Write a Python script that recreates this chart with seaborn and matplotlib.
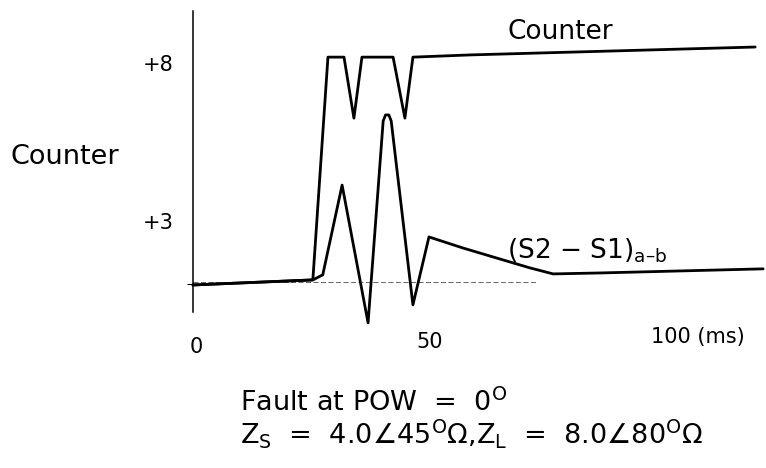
import matplotlib
matplotlib.use("Agg")
import matplotlib.pyplot as plt
import seaborn as sns
import pandas as pd

# ---- data (time in ms, value in counter units) ----
counter_t = [0.0, 25.4, 28.6, 32.0, 34.1, 35.8, 42.4, 44.9, 46.6, 58.7, 119.1]
counter_v = [0.96, 1.12, 8.17, 8.17, 6.24, 8.17, 8.17, 6.24, 8.17, 8.24, 8.49]

diff_t = [0.0, 25.4, 27.5, 31.6, 37.1, 40.3, 40.8, 41.5, 42.0, 46.6, 50.0,
          57.2, 64.4, 71.4, 76.3, 86.2, 120.8]
diff_v = [0.96, 1.12, 1.28, 4.12, -0.24, 6.15, 6.34, 6.34, 6.15, 0.33, 2.48,
          2.13, 1.81, 1.50, 1.31, 1.34, 1.47]

ref_t = [0.0, 72.9]
ref_v = [1.05, 1.05]

y_ticks = [3, 8]
y_tick_labels = ["+3", "+8"]
x_ticks = [0, 50, 100]
x_tick_labels = ["0", "50", "100 (ms)"]

counter_df = pd.DataFrame({"t": counter_t, "v": counter_v})
diff_df = pd.DataFrame({"t": diff_t, "v": diff_v})
ref_df = pd.DataFrame({"t": ref_t, "v": ref_v})

sns.set_style("white")
plt.rcParams["font.family"] = ["DejaVu Sans"]
plt.rcParams["mathtext.fontset"] = "dejavusans"
plt.rcParams["text.color"] = "black"
plt.rcParams["ytick.color"] = "black"
plt.rcParams["ytick.labelcolor"] = "black"

fig = plt.figure(figsize=(7.66, 4.68), dpi=100)
ax = fig.add_axes([0.2334, 0.225, 0.7666, 0.7731])

sns.lineplot(data=ref_df, x="t", y="v", ax=ax, color="black", lw=0.6,
             linestyle=(0, (6, 3)), sort=False, estimator=None, alpha=0.7)
sns.lineplot(data=counter_df, x="t", y="v", ax=ax, color="black", lw=2.0,
             sort=False, estimator=None)
sns.lineplot(data=diff_df, x="t", y="v", ax=ax, color="black", lw=2.0,
             sort=False, estimator=None)

ax.set_xlim(-3, 121.4)
ax.set_ylim(-1.5, 9.95)

for s in ["top", "right", "bottom"]:
    ax.spines[s].set_visible(False)
ax.spines["left"].set_position(("data", 0))
ax.spines["left"].set_bounds(0.10, 9.63)
ax.spines["left"].set_color("black")
ax.spines["left"].set_linewidth(1.1)

ax.set_yticks(y_ticks, y_tick_labels)
ax.tick_params(axis="y", length=0, pad=14, labelsize=15, colors="black")
ax.set_yticks([1.0], minor=True)
ax.tick_params(axis="y", which="minor", length=4, width=0.8, color="black", left=True)
ax.set_xticks([])
ax.set_xlabel("")
ax.set_ylabel("")

# x tick labels (drawn as text to follow the original placement)
xlabel_pos = [(0.8, -1.0, "center"), (50.2, -0.84, "center"), (97.0, -0.69, "left")]
for (px, py, ha), lab in zip(xlabel_pos, x_tick_labels):
    ax.text(px, py, lab, ha=ha, va="center", fontsize=15, color="black", clip_on=False)

fig.text(65 / 766, 1 - 157 / 468, "Counter", ha="center", va="center", fontsize=19.5)

ax.text(77.8, 8.95, "Counter", ha="center", va="center", fontsize=19)
ax.text(66.6, 2.05, r"(S2 − S1)$_{\mathregular{a–b}}$", ha="left", va="center", fontsize=19)

fig.text(240 / 766, 1 - 403 / 468, r"Fault at POW  =  0$^{\mathregular{O}}$",
         ha="left", va="center", fontsize=19.5)
fig.text(240 / 766, 1 - 434 / 468,
         r"Z$_{\mathregular{S}}$  =  4.0∠45$^{\mathregular{O}}$Ω,Z$_{\mathregular{L}}$  =  8.0∠80$^{\mathregular{O}}$Ω",
         ha="left", va="center", fontsize=19.5)

fig.savefig("out.png", dpi=100)
